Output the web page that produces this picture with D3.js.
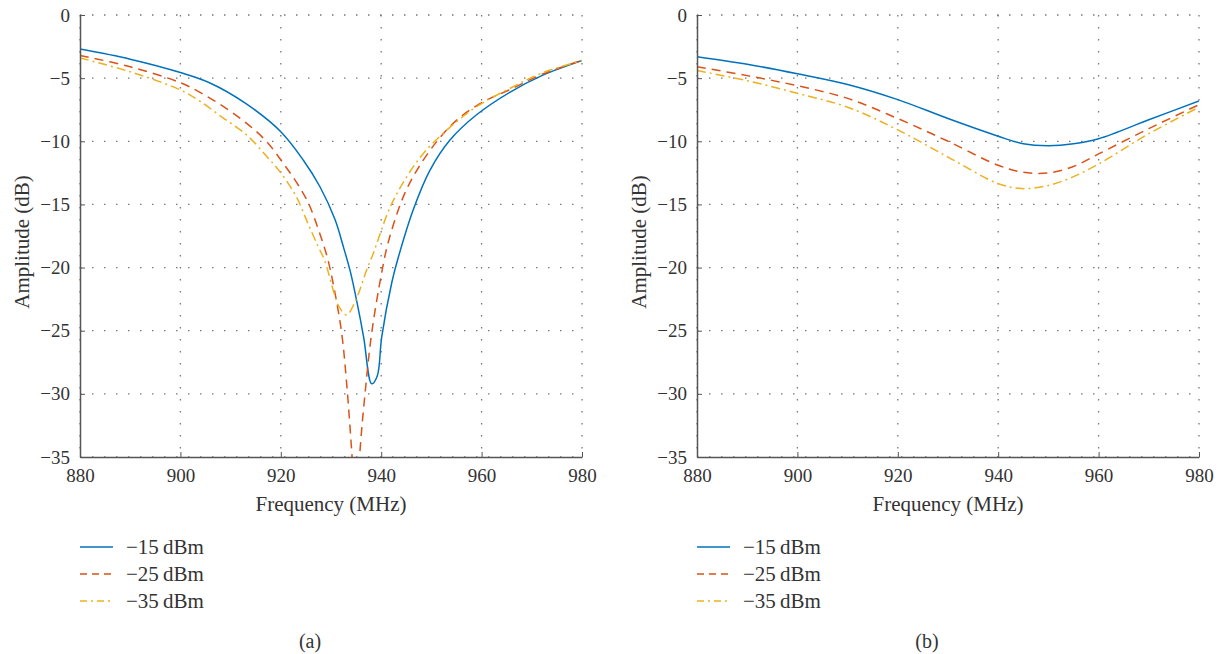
<!DOCTYPE html>
<html>
<head>
<meta charset="utf-8">
<script src="https://cdn.jsdelivr.net/npm/d3@7"></script>
<style>
  body { margin: 0; background: #fff; }
  text { font-family: "Liberation Serif", "DejaVu Serif", serif; fill: #333; }
</style>
</head>
<body>
<div id="chart"></div>
<script>
(function () {
  "use strict";

  // panel (a)
  var freqA15 = [880, 890, 900, 906, 913, 920, 924.5, 927.8, 930.8, 932.5, 933.9, 935.2, 936.5, 938.1, 939.2, 940.1, 942.1, 943.4, 946.4, 949.7, 953.7, 959, 965.7, 972, 980],
    ampA15 = [-2.7, -3.5, -4.56, -5.4, -7.0, -9.24, -11.5, -13.6, -16.2, -18.4, -20.4, -22.8, -25.5, -29.2, -28.6, -25.5, -21.2, -19.2, -15.4, -12.3, -9.9, -7.9, -6.1, -4.8, -3.6];
  var freqA25 = [880, 890, 900, 904, 908.6, 913.2, 917.2, 920.5, 923.2, 925.5, 927.5, 929.2, 930.4, 932.1, 933.1, 934.1, 935, 935.8, 936.8, 938.1, 940.1, 941.4, 944.4, 947.1, 951.1, 955.1, 960.4, 965.7, 972, 980],
    ampA25 = [-3.2, -4.1, -5.36, -6.15, -7.26, -8.58, -10.03, -11.75, -13.3, -14.9, -17.0, -19.1, -21.2, -25.1, -29.1, -34.4, -40, -34.4, -29.9, -25.2, -20.4, -18.0, -14.4, -12.3, -10.0, -8.3, -6.86, -5.9, -4.7, -3.6];
  var freqA35 = [880, 890, 900, 904, 908.6, 913.2, 917.2, 920, 923.1, 925.4, 927.4, 928.7, 930.6, 931.6, 933.1, 934.8, 937.1, 938.4, 941.8, 945.1, 948.4, 953.1, 959, 965.7, 972, 980],
    ampA35 = [-3.4, -4.5, -5.94, -6.86, -8.18, -9.5, -11.2, -12.5, -14.4, -16.5, -18.3, -19.4, -22.0, -23.1, -23.75, -22.7, -20.2, -18.9, -15.2, -12.8, -10.96, -9.1, -7.26, -5.8, -4.6, -3.6];

  // panel (b)
  var freqB = [880, 890, 900, 910, 920, 930, 940, 945, 950, 955, 960, 970, 980],
    ampB15 = [-3.3, -3.9, -4.65, -5.5, -6.7, -8.2, -9.6, -10.2, -10.35, -10.2, -9.8, -8.3, -6.8],
    ampB25 = [-4.1, -4.8, -5.6, -6.6, -8.2, -10.0, -11.9, -12.45, -12.5, -12.0, -11.0, -9.0, -7.1],
    ampB35 = [-4.4, -5.2, -6.2, -7.3, -9.1, -11.25, -13.35, -13.75, -13.5, -12.8, -11.8, -9.4, -7.3];

  var xTicks = [880, 900, 920, 940, 960, 980],
    yTicks = [0, -5, -10, -15, -20, -25, -30, -35],
    seriesNames = ["\u221215\u2009dBm", "\u221225\u2009dBm", "\u221235\u2009dBm"],
    panelLabels = ["(a)", "(b)"];

  var colors = ["#0072BD", "#D95319", "#EDB120"],
    dashes = [null, "9,6", "9,4,2,4"],
    legendDashes = [null, "7,5", "7,4,2,4"];

  var w = 1226, h = 654;

  var svg = d3.select("#chart").append("svg")
    .attr("width", w)
    .attr("height", h);

  function zip(xs, ys) {
    return xs.map(function (x, i) { return { f: x, a: ys[i] }; });
  }

  var panels = [
    { left: 80, label: panelLabels[0], series: [zip(freqA15, ampA15), zip(freqA25, ampA25), zip(freqA35, ampA35)] },
    { left: 697, label: panelLabels[1], series: [zip(freqB, ampB15), zip(freqB, ampB25), zip(freqB, ampB35)] }
  ];

  function drawPanel(p, idx) {
    var pw = 502, ph = 442, top = 15;
    var g = svg.append("g").attr("transform", "translate(" + p.left + "," + top + ")");

    var x = d3.scaleLinear().domain([880, 980]).range([0, pw]);
    var y = d3.scaleLinear().domain([-35, 0]).range([ph, 0]);

    // dotted grid
    g.selectAll(".gx").data(xTicks).enter().append("line")
      .attr("x1", function (d) { return x(d); }).attr("x2", function (d) { return x(d); })
      .attr("y1", 0).attr("y2", ph)
      .attr("stroke", "#777").attr("stroke-width", 1.3)
      .attr("stroke-dasharray", "1.5,10.5");
    g.selectAll(".gy").data(yTicks).enter().append("line")
      .attr("y1", function (d) { return y(d); }).attr("y2", function (d) { return y(d); })
      .attr("x1", 0).attr("x2", pw)
      .attr("stroke", "#777").attr("stroke-width", 1.3)
      .attr("stroke-dasharray", "1.5,10.5");

    var clipId = "clip" + idx;
    g.append("clipPath").attr("id", clipId).append("rect")
      .attr("width", pw).attr("height", ph);

    var line = d3.line()
      .x(function (d) { return x(d.f); })
      .y(function (d) { return y(d.a); })
      .curve(d3.curveCatmullRom.alpha(0.5));

    var lines = g.append("g").attr("clip-path", "url(#" + clipId + ")");
    p.series.forEach(function (s, i) {
      lines.append("path")
        .datum(s)
        .attr("d", line)
        .attr("fill", "none")
        .attr("stroke", colors[i])
        .attr("stroke-width", 1.5)
        .attr("stroke-dasharray", dashes[i]);
    });

    // axes
    var xAxis = d3.axisBottom(x).tickValues(xTicks).tickSizeInner(-5).tickSizeOuter(0).tickPadding(12)
      .tickFormat(d3.format("d"));
    var gx = g.append("g").attr("transform", "translate(0," + ph + ")").call(xAxis);
    var yAxis = d3.axisLeft(y).tickValues(yTicks).tickSizeInner(-5).tickSizeOuter(0).tickPadding(10)
      .tickFormat(function (d) { return d === 0 ? "0" : "\u2212" + Math.abs(d); });
    var gy = g.append("g").call(yAxis);

    [gx, gy].forEach(function (a) {
      a.select(".domain").attr("stroke", "#555").attr("stroke-width", 1.5);
      a.selectAll(".tick line").attr("stroke", "#555");
      a.selectAll(".tick text").style("font-size", "19px").attr("fill", "#333");
    });

    g.append("text")
      .attr("x", pw / 2).attr("y", ph + 54)
      .attr("text-anchor", "middle")
      .style("font-size", "21px")
      .text("Frequency (MHz)");

    g.append("text")
      .attr("transform", "translate(-51," + (ph / 2 + 6) + ") rotate(-90)")
      .attr("text-anchor", "middle")
      .style("font-size", "21px")
      .text("Amplitude (dB)");

    // legend
    var leg = g.append("g").attr("transform", "translate(0," + (ph + 90) + ")");
    seriesNames.forEach(function (n, i) {
      var row = leg.append("g").attr("transform", "translate(0," + (i * 27) + ")");
      row.append("line")
        .attr("x1", 0).attr("x2", 33).attr("y1", 0).attr("y2", 0)
        .attr("stroke", colors[i]).attr("stroke-width", 1.5)
        .attr("stroke-dasharray", legendDashes[i]);
      row.append("text")
        .attr("x", 46).attr("y", 7)
        .style("font-size", "21px")
        .text(n);
    });

    g.append("text")
      .attr("x", pw / 2 - 21).attr("y", ph + 191)
      .attr("text-anchor", "middle")
      .style("font-size", "20px")
      .text(p.label);
  }

  panels.forEach(drawPanel);
})();
</script>
</body>
</html>
